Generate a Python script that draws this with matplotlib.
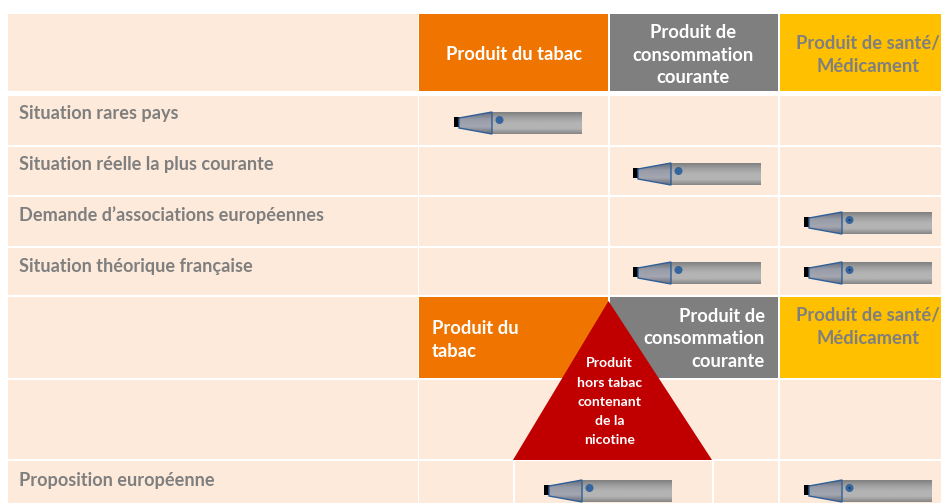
import numpy as np
import matplotlib
matplotlib.use("Agg")
import matplotlib.pyplot as plt
from matplotlib.patches import Rectangle, Polygon, Circle
from matplotlib.colors import LinearSegmentedColormap

plt.rcParams['font.family'] = ['Lato', 'DejaVu Sans']

# --- content -------------------------------------------------------------
row_labels = ["Situation rares pays", "Situation réelle la plus courante",
              "Demande d’associations européennes", "Situation théorique française"]
last_row_label = "Proposition européenne"
col_labels = ["Produit du tabac", "Produit de\nconsommation\ncourante", "Produit de santé/\nMédicament"]
lower_col_labels = ["Produit du\ntabac", "Produit de\nconsommation\ncourante", "Produit de santé/\nMédicament"]
triangle_label = ["Produit", "hors tabac", "contenant", "de la", "nicotine"]
# which upper rows hold a device, per column (1 = device present)
placement = [[1, 0, 0],
             [0, 1, 0],
             [0, 0, 1],
             [0, 1, 1]]

# --- style ---------------------------------------------------------------
PEACH, ORANGE, GREY, YELLOW, RED = "#fdeadb", "#f07400", "#7f7f7f", "#ffc000", "#c00000"
TXT = "#7f7f7f"
FS_HEAD, FS_ROW, FS_TRI = 13.2, 13.1, 10.1

W, H = 941, 503
fig = plt.figure(figsize=(W / 100, H / 100), dpi=100, facecolor="white")
ax = fig.add_axes([0, 0, 1, 1])
ax.set_xlim(0, W)
ax.set_ylim(H, 0)
ax.axis("off")

col_x = [(8, 418), (419, 608), (610, 778), (780, 941)]
row_y = [(14, 91), (96, 145), (147, 195), (197, 246), (248, 295), (297, 378), (380, 459), (461, 503)]


def cell(x0, x1, y0, y1, color=PEACH, z=1):
    ax.add_patch(Rectangle((x0, y0), x1 - x0, y1 - y0, fc=color, ec="none", zorder=z))


for (y0, y1) in row_y:
    for (x0, x1) in col_x:
        cell(x0, x1, y0, y1)

# last row splits under the triangle base
cell(513, 515, 461, 503, "white", 2)
cell(712, 714, 461, 503, "white", 2)
cell(608, 610, 461, 503, PEACH, 2)

# header rows
for (x0, x1), c in zip(col_x[1:], (ORANGE, GREY, YELLOW)):
    cell(x0, x1, *row_y[0], color=c, z=2)
    cell(x0, x1, *row_y[5], color=c, z=2)

head_colors = ["white", "white", TXT]
head_x = [514, 693, 868]
head_y = [54, 55, 55]
for lab, x, y, c in zip(col_labels, head_x, head_y, head_colors):
    ax.text(x, y, lab, ha="center", va="center", color=c, fontsize=FS_HEAD, fontweight="bold",
            linespacing=1.38, zorder=5)

ax.text(432, 340, lower_col_labels[0], ha="left", va="center", color="white", fontsize=FS_HEAD,
        fontweight="bold", linespacing=1.38, zorder=5)
ax.text(765, 339, lower_col_labels[1], ha="right", va="center", color="white", fontsize=FS_HEAD,
        fontweight="bold", linespacing=1.38, multialignment="right", zorder=5)
ax.text(868, 327, lower_col_labels[2], ha="center", va="center", color=TXT, fontsize=FS_HEAD,
        fontweight="bold", linespacing=1.38, zorder=5)

# triangle
ax.add_patch(Polygon([(608.5, 301), (513, 460), (712, 460)], closed=True, fc=RED, ec="none", zorder=4))
for t, y in zip(triangle_label, (363, 383, 402, 421, 440)):
    ax.text(609.5, y, t, ha="center", va="center", color="white", fontsize=FS_TRI, fontweight="bold", zorder=5)

# row labels
for lab, y in zip(row_labels, (113.5, 164.5, 215.5, 266.5)):
    ax.text(19, y, lab, ha="left", va="center", color=TXT, fontsize=FS_ROW, fontweight="bold", zorder=5)
ax.text(19, 480.5, last_row_label, ha="left", va="center", color=TXT, fontsize=FS_ROW, fontweight="bold", zorder=5)

# device drawing
body_cm = LinearSegmentedColormap.from_list("b", ["#808080", "#a0a0a0", "#b4b4b4", "#b4b4b4", "#868686"])
cone_cm = LinearSegmentedColormap.from_list("c", ["#666c7c", "#989ca8", "#a4a7b0", "#666c7c"])
grad = np.linspace(0, 1, 64).reshape(-1, 1)


def device(x, yc, dot_mark=False):
    ax.add_patch(Rectangle((x, yc - 5), 6, 10, fc="black", ec="none", zorder=6))
    ax.imshow(grad, cmap=body_cm, extent=(x + 38, x + 127.5, yc + 12, yc - 10), aspect="auto", zorder=6)
    im2 = ax.imshow(grad, cmap=cone_cm, extent=(x + 5, x + 38, yc + 12, yc - 10), aspect="auto", zorder=6)
    cone = Polygon([(x + 5, yc - 4), (x + 38, yc - 10), (x + 38, yc + 12), (x + 5, yc + 6)], closed=True,
                   fc="none", ec="#2f5f97", lw=1.0, zorder=7)
    ax.add_patch(cone)
    im2.set_clip_path(cone)
    ax.add_patch(Circle((x + 45.5, yc - 2), 4, fc="#35659c", ec="none", zorder=7))
    if dot_mark:
        ax.add_patch(Circle((x + 45.5, yc - 2), 1, fc="#15355c", ec="none", zorder=8))


dev_x = [454, 633, 804]
dev_y = [122, 173, 222, 272]
for r, flags in enumerate(placement):
    for c, on in enumerate(flags):
        if on:
            device(dev_x[c], dev_y[r], dot_mark=(c == 2))
device(544, 490)
device(804, 490, dot_mark=True)

ax.set_xlim(0, W)
ax.set_ylim(H, 0)
fig.savefig("out.png", dpi=100, facecolor="white")
